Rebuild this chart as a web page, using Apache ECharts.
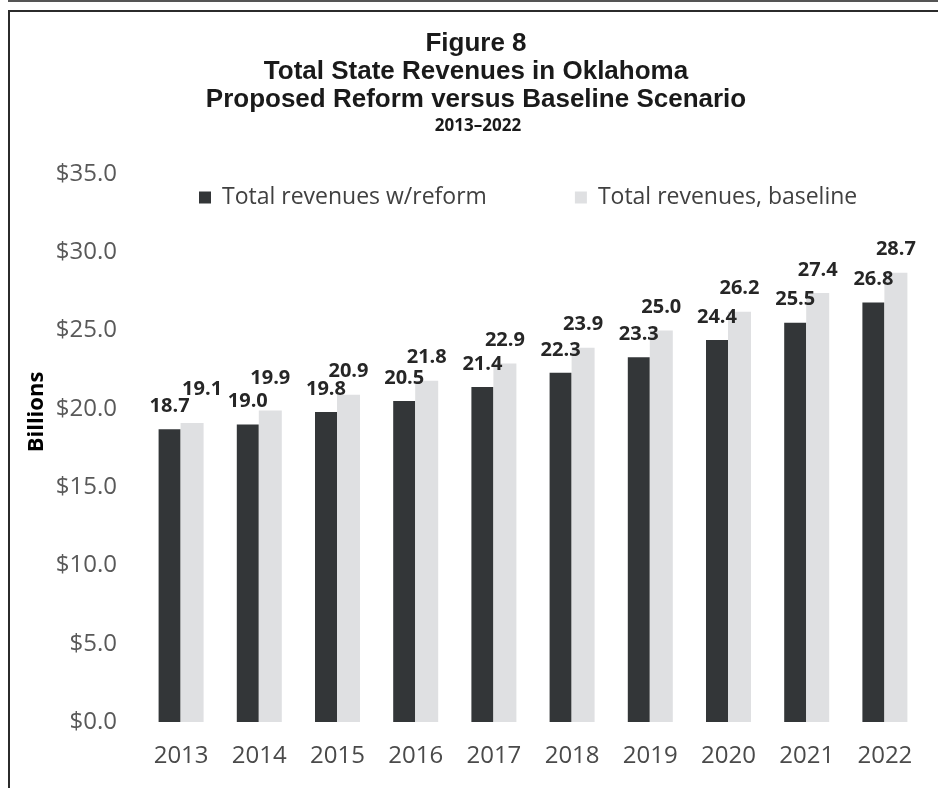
<!DOCTYPE html>
<html>
<head>
<meta charset="utf-8">
<script src="https://cdn.jsdelivr.net/npm/echarts@6/dist/echarts.min.js"></script>
<style>
  html, body { margin: 0; padding: 0; background: #fff; }
  #wrap { position: relative; width: 938px; height: 788px; overflow: hidden; }
  #chart { position: absolute; left: 0; top: 0; width: 938px; height: 788px; }
  .ln { position: absolute; background: #2b2b2b; }
</style>
</head>
<body>
<div id="wrap">
  <div id="chart"></div>
  <div class="ln" style="left:8px;top:0;width:930px;height:2px;background:#555;"></div>
  <div class="ln" style="left:8px;top:10px;width:930px;height:2px;"></div>
  <div class="ln" style="left:8px;top:10px;width:2px;height:778px;"></div>
</div>
<script>
const years = ['2013','2014','2015','2016','2017','2018','2019','2020','2021','2022'];
const reformRevenues = [18.7, 19.0, 19.8, 20.5, 21.4, 22.3, 23.3, 24.4, 25.5, 26.8];
const baselineRevenues = [19.1, 19.9, 20.9, 21.8, 22.9, 23.9, 25.0, 26.2, 27.4, 28.7];
const seriesNames = ['Total revenues w/reform', 'Total revenues, baseline'];
const yTicks = [0, 5, 10, 15, 20, 25, 30, 35];

const chart = echarts.init(document.getElementById('chart'), null, { renderer: 'canvas' });

const labelStyle = {
  show: true,
  position: 'top',
  distance: 13,
  fontFamily: 'Open Sans',
  fontWeight: 'bold',
  fontSize: 20,
  color: '#262626',
  formatter: p => p.value.toFixed(1)
};

const baselineData = baselineRevenues.map((v, i) => {
  if (i === 0) return { value: v, label: { offset: [10, -11] } };
  if (i === 1) return { value: v, label: { offset: [0, -9] } };
  return v;
});

chart.setOption({
  animation: false,
  backgroundColor: '#ffffff',
  title: [
    {
      text: 'Figure 8\nTotal State Revenues in Oklahoma\nProposed Reform versus Baseline Scenario',
      left: 471, top: 25, textAlign: 'center',
      textStyle: { fontFamily: 'Liberation Sans', fontWeight: 'bold', fontSize: 26, lineHeight: 28, color: '#1a1a1a' }
    },
    {
      text: '2013\u20132022',
      left: 473, top: 111, textAlign: 'center',
      textStyle: { fontFamily: 'Open Sans', fontWeight: 'bold', fontSize: 17, lineHeight: 20, color: '#1a1a1a' }
    }
  ],
  legend: {
    left: 194, top: 181,
    itemWidth: 12, itemHeight: 12, itemGap: 88,
    icon: 'rect',
    textStyle: { fontFamily: 'Open Sans', fontSize: 23, color: '#404040', padding: [0, 0, 0, 6] },
    data: seriesNames
  },
  grid: { left: 142, right: 14, top: 174, bottom: 66 },
  xAxis: {
    type: 'category',
    data: years,
    axisLine: { show: false },
    axisTick: { show: false },
    axisLabel: { margin: 22, fontFamily: 'Open Sans', fontSize: 24, color: '#4a4a4a' }
  },
  yAxis: {
    type: 'value',
    min: yTicks[0], max: yTicks[yTicks.length - 1], interval: 5,
    splitLine: { show: false },
    axisLine: { show: false },
    axisTick: { show: false },
    axisLabel: { margin: 25, fontFamily: 'Open Sans', fontSize: 24, color: '#595959', formatter: v => '$' + v.toFixed(1) }
  },
  graphic: [
    {
      type: 'text', x: 37, y: 412, rotation: Math.PI / 2,
      style: { text: 'Billions', fontFamily: 'Open Sans', fontWeight: 'bold', fontSize: 22, fill: '#000', align: 'center', verticalAlign: 'middle' }
    }
  ],
  series: [
    {
      name: seriesNames[0], type: 'bar', data: reformRevenues,
      barWidth: 22, barGap: '0%',
      itemStyle: { color: '#333638' },
      label: labelStyle
    },
    {
      name: seriesNames[1], type: 'bar', data: baselineData,
      barWidth: 23, barGap: '0%',
      itemStyle: { color: '#dfe0e2' },
      label: labelStyle
    }
  ]
});
</script>
</body>
</html>
